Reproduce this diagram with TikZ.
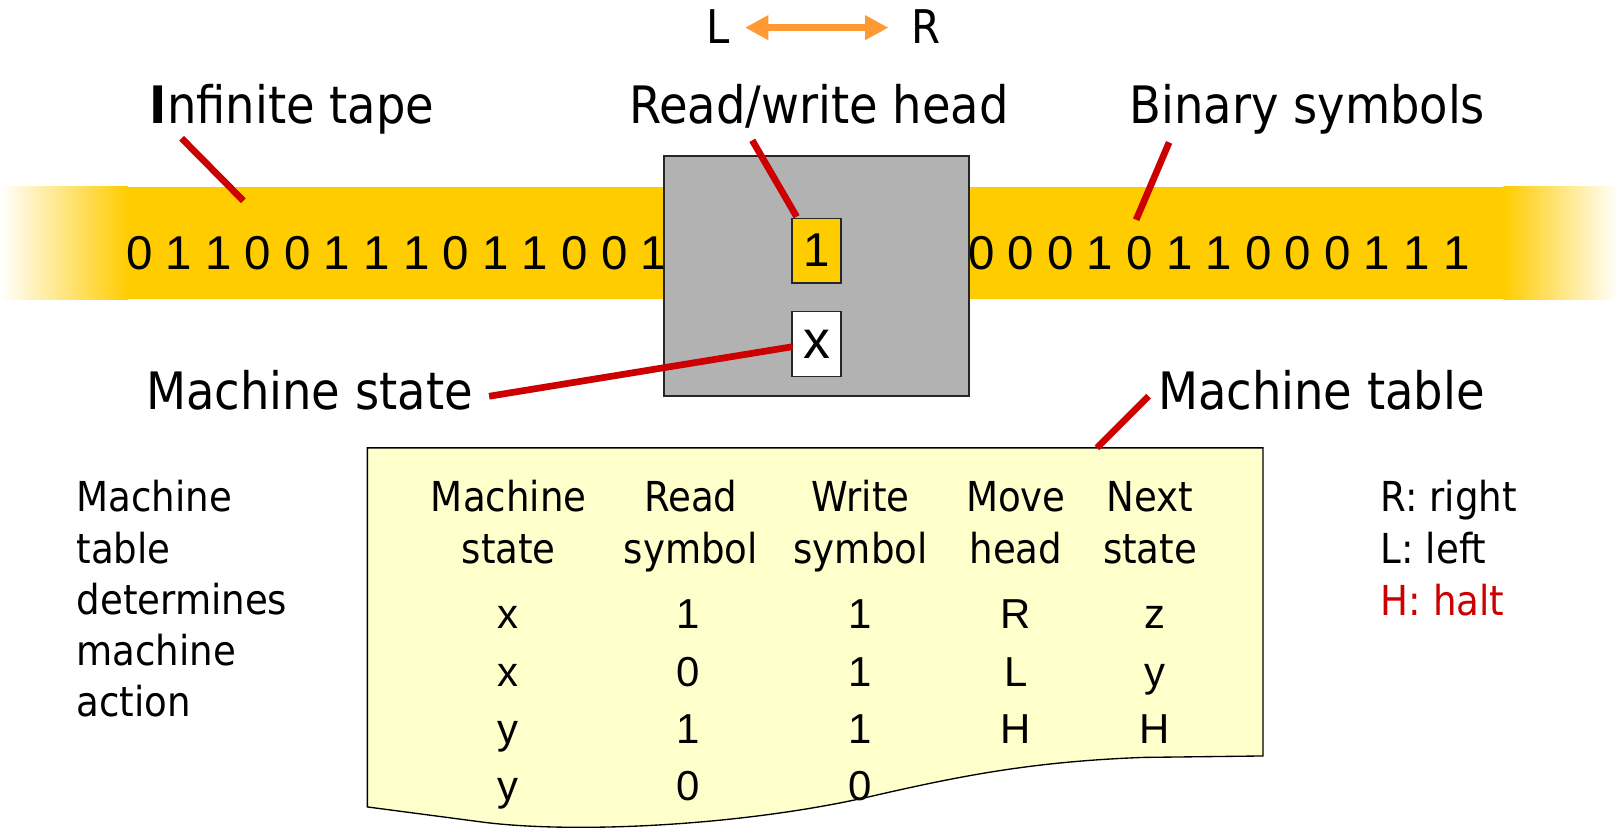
\documentclass[tikz,border=0pt]{standalone}
\usepackage{fontspec}
\setmainfont{DejaVu Sans Condensed}
\newfontfamily\arialf{Liberation Sans}
\usetikzlibrary{arrows.meta}
\definecolor{tapey}{HTML}{FFCC00}
\definecolor{tabley}{HTML}{FFFFCC}
\definecolor{headg}{HTML}{B2B2B2}
\definecolor{redl}{HTML}{CC0000}
\definecolor{orng}{HTML}{FF9933}
\begin{document}
\begin{tikzpicture}[x=1pt,y=-1pt,
  lbl/.style={font=\fontsize{50}{60}\selectfont, inner sep=0pt, anchor=base},
  small/.style={font=\fontsize{40}{48}\selectfont, inner sep=0pt, anchor=base},
  smallw/.style={small, anchor=base west},
  datum/.style={font=\arialf\fontsize{40.6}{48}\selectfont, inner sep=0pt, anchor=base},
  tapetxt/.style={font=\arialf\fontsize{46}{54}\selectfont, inner sep=0pt, anchor=base west},
  pointer/.style={draw=redl, line width=6.5pt},
  cellbox/.style={draw=black!85, line width=1.5pt, minimum width=47.5pt, inner sep=0pt},
  lr/.style={font=\fontsize{45}{54}\selectfont, inner sep=0pt, anchor=base},
]
\useasboundingbox (0,0) rectangle (1568,805);

% tape
\fill[tapey] (124,181) rectangle (1457,290);
\shade[left color=white, right color=tapey] (0,181) rectangle (124,290);
\shade[left color=tapey, right color=white] (1457,181) rectangle (1568,290);
\node[tapetxt] (tl) at (122,261) {0 1 1 0 0 1 1 1 0 1 1 0 0 1};
\node[tapetxt] (tr) at (938,261) {0 0 0 1 0 1 1 0 0 0 1 1 1};

% head
\node[draw=black!85, fill=headg, line width=1.5pt, inner sep=0pt,
      minimum width=295.6pt, minimum height=233pt, anchor=north west] (head) at (642.8,150.2) {};
\node[cellbox, fill=tapey, minimum height=62.4pt, font=\arialf\fontsize{46}{54}\selectfont] (cell) at (791.2,242.8) {1};
\node[cellbox, fill=white, minimum height=63pt, font=\arialf\fontsize{52}{60}\selectfont] (state) at (791.2,333.5) {x};

% top L <-> R
\node[lr] (Lt) at (696,41.7) {L};
\node[lr] (Rt) at (897,41.7) {R};
\coordinate (aL) at (722,26.8);
\coordinate (aR) at (861,26.8);
\draw[orng, line width=7.4pt, {Triangle[width=22.6pt,length=22.6pt]}-{Triangle[width=22.6pt,length=22.6pt]}] (aL) -- (aR);

% labels
\node[lbl] (linf) at (283,120) {\textbf{I}nfinite tape};
\node[lbl] (lrw) at (793.5,120) {Read/write head};
\node[lbl] (lbin) at (1267,120) {Binary symbols};
\node[lbl] (lms) at (300,397) {Machine state};
\node[lbl] (lmt) at (1280.5,397) {Machine table};

% table
\draw[fill=tabley, line width=1.3pt] (356,434) -- (1224,434) -- (1224,732.6) -- (1108,734)
  .. controls (1000,738) and (930,752) .. (843,772)
  .. controls (720,800) and (560,808) .. (470,797) -- (356,782) -- cycle;
\coordinate (tabtop) at (1063,434);

% pointers
\coordinate (p1a) at (176,134);   \coordinate (p1b) at (235.8,194.5);
\coordinate (p2a) at (729,136);   \coordinate (p2b) at (772,210);
\coordinate (p3a) at (1133,138);  \coordinate (p3b) at (1101,213);
\coordinate (p4a) at (474,384);   \coordinate (p4b) at (768,336);
\coordinate (p5a) at (1113,384);
\draw[pointer] (p1a) -- (p1b);
\draw[pointer] (p2a) -- (p2b);
\draw[pointer] (p3a) -- (p3b);
\draw[pointer] (p4a) -- (p4b);
\draw[pointer] (p5a) -- (tabtop);

% table headers
\node[small] (h1a) at (493,496) {Machine};
\node[small] (h1b) at (493,546) {state};
\node[small] (h2a) at (669.5,496) {Read};
\node[small] (h2b) at (669.5,546) {symbol};
\node[small] (h3a) at (834,496) {Write};
\node[small] (h3b) at (834,546) {symbol};
\node[small] (h4a) at (984.5,496) {Move};
\node[small] (h4b) at (984.5,546) {head};
\node[small] (h5a) at (1114.5,496) {Next};
\node[small] (h5b) at (1114.5,546) {state};

% table data
\node[datum] (d11) at (492,609) {x};
\node[datum] (d12) at (667,609) {1};
\node[datum] (d13) at (834,609) {1};
\node[datum] (d14) at (984.5,609) {R};
\node[datum] (d15) at (1119,609) {z};
\node[datum] (d21) at (492,665.2) {x};
\node[datum] (d22) at (667,665.2) {0};
\node[datum] (d23) at (834,665.2) {1};
\node[datum] (d24) at (984.5,665.2) {L};
\node[datum] (d25) at (1119,665.2) {y};
\node[datum] (d31) at (492,720.5) {y};
\node[datum] (d32) at (667,720.5) {1};
\node[datum] (d33) at (834,720.5) {1};
\node[datum] (d34) at (984.5,720.5) {H};
\node[datum] (d35) at (1119,720.5) {H};
\node[datum] (d41) at (492,776) {y};
\node[datum] (d42) at (667,776) {0};
\node[datum] (d43) at (834,776) {0};

% left text
\node[smallw] (m1) at (74,496) {Machine};
\node[smallw] (m2) at (74,545.6) {table};
\node[smallw] (m3) at (74,595.2) {determines};
\node[smallw] (m4) at (74,644.8) {machine};
\node[smallw] (m5) at (74,694.4) {action};

% legend
\node[smallw] (g1) at (1338,496) {R: right};
\node[smallw] (g2) at (1338,546) {L: left};
\node[smallw, text=redl] (g3) at (1338,596) {H: halt};
\end{tikzpicture}
\end{document}
